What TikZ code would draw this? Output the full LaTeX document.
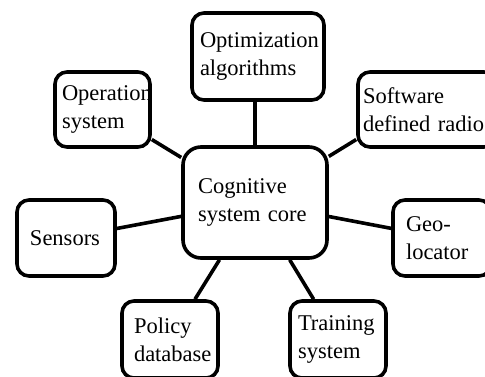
\documentclass[tikz,border=0pt]{standalone}
\usepackage{fontspec}
\setmainfont{Liberation Serif}
\begin{document}
\begin{tikzpicture}[x=1pt,y=-1pt]
  \tikzstyle{every node}+=[inner ysep=2pt]
  \tikzstyle{unit}=[draw=black, fill=white, line width=3.6pt, rounded corners=12pt, align=left, minimum height=76pt, font=\fontsize{22.5}{28}\selectfont]
  \tikzstyle{link}=[black, line width=3.6pt]
  \useasboundingbox (0,0) rectangle (485,376);
  \node [unit, rounded corners=18pt, text width=114pt, inner xsep=15pt, minimum height=111pt] (core) at (255,202.5) {Cognitive\\system core};
  \node [unit, text width=116pt, inner xsep=8pt, minimum height=87pt] (opt) at (258,56.5) {Optimization\\algorithms};
  \node [unit, text width=81pt, inner xsep=7pt, minimum height=75pt] (oper) at (102.5,109.5) {Operation\\system};
  \node [unit, text width=128pt, inner xsep=5pt, minimum height=75pt] (soft) at (427,109.5) {Software\\defined radio};
  \node [unit, text width=72pt, inner xsep=13pt] (sens) at (66,238) {Sensors};
  \node [unit, text width=72pt, inner xsep=13pt] (geo) at (442,238) {Geo-\\locator};
  \node [unit, text width=72pt, inner xsep=12pt, minimum height=77pt] (pol) at (170,339.5) {Policy\\database};
  \node [unit, text width=80pt, inner xsep=8pt, minimum height=77pt] (train) at (338,339.5) {Training\\system};
  \draw [link] (core.north) -- (core.north |- opt.south);
  \draw [link] (core) -- (oper);
  \draw [link] (core.32) -- (soft.203);
  \draw [link] (core) -- (sens);
  \draw [link] (core) -- (geo);
  \draw [link] (core) -- (pol);
  \draw [link] (core) -- (train);
\end{tikzpicture}
\end{document}
